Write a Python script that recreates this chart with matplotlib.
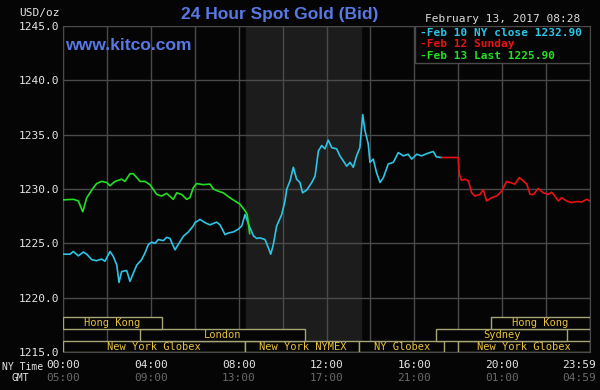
import matplotlib
matplotlib.use("Agg")
import matplotlib.pyplot as plt
from matplotlib.patches import Rectangle

# Feb 10 NY close (cyan), hours after midnight NY time
feb10_h = [0.0, 0.32, 0.47, 0.70, 0.93, 1.08, 1.31, 1.53, 1.76, 1.91, 2.14, 2.29, 2.45, 2.55, 2.67,
           2.90, 3.05, 3.17, 3.36, 3.58, 3.73, 3.89, 4.04, 4.19, 4.34, 4.57, 4.72, 4.87, 5.10, 5.25,
           5.48, 5.71, 5.93, 6.01, 6.24, 6.47, 6.69, 7.00, 7.15, 7.38, 7.53, 7.76, 7.98, 8.14, 8.29,
           8.52, 8.67, 8.82, 8.97, 9.20, 9.35, 9.46, 9.58, 9.73, 9.96, 10.11, 10.19, 10.34, 10.49,
           10.64, 10.79, 10.91, 11.10, 11.33, 11.48, 11.63, 11.78, 11.93, 12.08, 12.24, 12.46, 12.61,
           12.76, 12.92, 13.07, 13.22, 13.37, 13.52, 13.65, 13.75, 13.90, 13.98, 14.13, 14.28, 14.44,
           14.59, 14.81, 15.04, 15.27, 15.50, 15.72, 15.88, 16.11, 16.33, 16.56, 16.86, 17.01, 17.24]
feb10_v = [1224.0, 1224.0, 1224.25, 1223.85, 1224.2, 1224.0, 1223.5, 1223.4, 1223.55, 1223.35, 1224.25,
           1223.8, 1223.0, 1221.4, 1222.4, 1222.5, 1221.5, 1222.1, 1223.0, 1223.5, 1224.1, 1224.9,
           1225.1, 1225.0, 1225.35, 1225.25, 1225.55, 1225.45, 1224.4, 1224.9, 1225.65, 1226.05,
           1226.6, 1226.9, 1227.2, 1226.9, 1226.7, 1226.95, 1226.7, 1225.8, 1225.95, 1226.05, 1226.3,
           1226.6, 1227.65, 1226.4, 1225.7, 1225.45, 1225.5, 1225.35, 1224.6, 1224.0, 1224.9, 1226.6,
           1227.65, 1228.9, 1230.0, 1230.75, 1232.0, 1230.9, 1230.6, 1229.65, 1229.9, 1230.6, 1231.2,
           1233.5, 1234.0, 1233.7, 1234.5, 1233.8, 1233.7, 1233.05, 1232.6, 1232.1, 1232.45, 1232.0,
           1233.05, 1233.8, 1236.85, 1235.4, 1234.15, 1232.45, 1232.75, 1231.5, 1230.6, 1231.05,
           1232.3, 1232.45, 1233.35, 1233.05, 1233.2, 1232.75, 1233.2, 1233.05, 1233.25, 1233.45,
           1232.95, 1232.9]

# Feb 12 Sunday (red)
feb12_h = [17.24, 18.0, 18.05, 18.15, 18.3, 18.46, 18.61, 18.76, 18.99, 19.14, 19.29, 19.52, 19.75,
           19.98, 20.2, 20.36, 20.58, 20.78, 20.96, 21.12, 21.27, 21.42, 21.65, 21.87, 22.1, 22.25,
           22.4, 22.56, 22.71, 22.94, 23.16, 23.39, 23.62, 23.85, 24.0]
feb12_v = [1232.9, 1232.9, 1231.35, 1230.8, 1230.9, 1230.75, 1229.65, 1229.35, 1229.5, 1229.95,
           1228.9, 1229.2, 1229.35, 1229.8, 1230.7, 1230.6, 1230.45, 1231.05, 1230.75, 1230.45,
           1229.5, 1229.5, 1230.05, 1229.65, 1229.5, 1229.7, 1229.35, 1228.9, 1229.2, 1228.9,
           1228.75, 1228.85, 1228.8, 1229.05, 1228.9]

# Feb 13 last (green)
feb13_h = [0.0, 0.47, 0.70, 0.90, 1.08, 1.38, 1.53, 1.76, 1.99, 2.14, 2.37, 2.67, 2.82, 3.05, 3.20,
           3.36, 3.51, 3.73, 3.96, 4.27, 4.49, 4.72, 5.02, 5.18, 5.40, 5.63, 5.78, 5.93, 6.09, 6.39,
           6.69, 6.85, 7.07, 7.30, 7.60, 7.83, 8.06, 8.29, 8.39, 8.50]
feb13_v = [1229.0, 1229.05, 1228.9, 1227.9, 1229.2, 1230.1, 1230.5, 1230.7, 1230.6, 1230.3, 1230.7,
           1230.9, 1230.7, 1231.4, 1231.4, 1231.05, 1230.7, 1230.7, 1230.4, 1229.5, 1229.35, 1229.6,
           1229.05, 1229.65, 1229.5, 1229.05, 1229.2, 1230.1, 1230.5, 1230.4, 1230.45, 1230.0,
           1229.8, 1229.65, 1229.2, 1228.9, 1228.6, 1228.0, 1227.65, 1225.9]

legend_labels = ["-Feb 10 NY close 1232.90", "-Feb 12 Sunday", "-Feb 13 Last 1225.90"]

# trading sessions: (row, start, end, label)
sessions = [
    (0, 0.0, 8.3, "New York Globex"),
    (0, 8.3, 13.5, "New York NYMEX"),
    (0, 13.5, 17.35, "NY Globex"),
    (0, 18.0, 24.0, "New York Globex"),
    (1, 3.5, 11.0, "London"),
    (1, 17.0, 22.95, "Sydney"),
    (2, 0.0, 4.5, "Hong Kong"),
    (2, 19.5, 24.0, "Hong Kong"),
]
row_edges = [1215.0, 1216.0, 1217.1, 1218.25]

ny_ticks = [0, 4, 8, 12, 16, 20, 23.5]
ny_labels = ["00:00", "04:00", "08:00", "12:00", "16:00", "20:00", "23:59"]
gmt_labels = ["05:00", "09:00", "13:00", "17:00", "21:00", "01:00", "04:59"]

BG = "#050505"
GRID = "#4a4a4a"
MONO = "DejaVu Sans Mono"
BLUE = "#5878e4"

fig = plt.figure(figsize=(6, 3.9), dpi=100, facecolor=BG)
ax = fig.add_axes([63 / 600, 38 / 390, 527 / 600, 326 / 390], facecolor=BG)
ax.set_xlim(0, 24)
ax.set_ylim(1215, 1245)

# NYMEX floor hours shading
ax.axvspan(8.33, 13.55, color="#1b1c1b", zorder=0)

ax.set_xticks(range(0, 25, 2))
ax.set_xticklabels([])
ax.set_yticks(range(1215, 1246, 5))
ax.set_yticklabels([f"{v:.1f}" for v in range(1215, 1246, 5)], family=MONO, fontsize=8, color="#e6e6e6")
ax.tick_params(length=0, pad=3)
ax.grid(True, color=GRID, lw=1)
for s in ax.spines.values():
    s.set_color(GRID)

ax.plot(feb10_h, feb10_v, color="#2ec4e6", lw=1.2, zorder=3)
ax.plot(feb12_h, feb12_v, color="#e81212", lw=1.2, zorder=3)
ax.plot(feb13_h, feb13_v, color="#22e022", lw=1.2, zorder=4)

# session bars
for row, x0, x1, label in sessions:
    y0, y1 = row_edges[row], row_edges[row + 1]
    ax.add_patch(Rectangle((x0, y0), x1 - x0, y1 - y0, facecolor=BG, edgecolor="#a8a478", lw=1, zorder=5))
    ax.text((x0 + x1) / 2, (y0 + y1) / 2, label, family=MONO, fontsize=7.5, color="#e8c23a",
            ha="center", va="center", zorder=6)

# legend box
ax.add_patch(Rectangle((16.03, 1241.6), 24 - 16.03, 3.4, facecolor=BG, edgecolor=GRID, lw=1, zorder=5))
for i, (lab, col) in enumerate(zip(legend_labels, ["#2ec4e6", "#e81212", "#22e022"])):
    fig.text(420 / 600, 1 - (32.5 + 11.8 * i) / 390, lab, family=MONO, fontsize=8, color=col,
             ha="left", va="center", fontweight="bold")

# x labels
trans = ax.get_xaxis_transform()
for t, a, b in zip(ny_ticks, ny_labels, gmt_labels):
    ax.text(t, -0.04, a, transform=trans, family=MONO, fontsize=8, color="#e6e6e6", ha="center", va="center")
    ax.text(t, -0.08, b, transform=trans, family=MONO, fontsize=8, color="#6a6a6a", ha="center", va="center")
fig.text(2 / 600, 1 - 367 / 390, "NY Time", family=MONO, fontsize=7, color="#e6e6e6", ha="left", va="center")
fig.text(20 / 600, 1 - 378 / 390, "GMT", family=MONO, fontsize=7, color="#e6e6e6", ha="center", va="center")

fig.text(40 / 600, 1 - 13 / 390, "USD/oz", family=MONO, fontsize=8, color="#e6e6e6", ha="center", va="center")
fig.text(280 / 600, 1 - 15 / 390, "24 Hour Spot Gold (Bid)", family="Liberation Sans", fontweight="bold",
         fontsize=12.5, color=BLUE, ha="center", va="center")
fig.text(503 / 600, 1 - 19 / 390, "February 13, 2017 08:28", family=MONO, fontsize=8, color="#dcdcdc",
         ha="center", va="center")
fig.text(65 / 600, 1 - 46 / 390, "www.kitco.com", family="Liberation Sans", fontweight="bold",
         fontsize=12.6, color=BLUE, ha="left", va="center")

fig.savefig("out.png", dpi=100, facecolor=BG)
